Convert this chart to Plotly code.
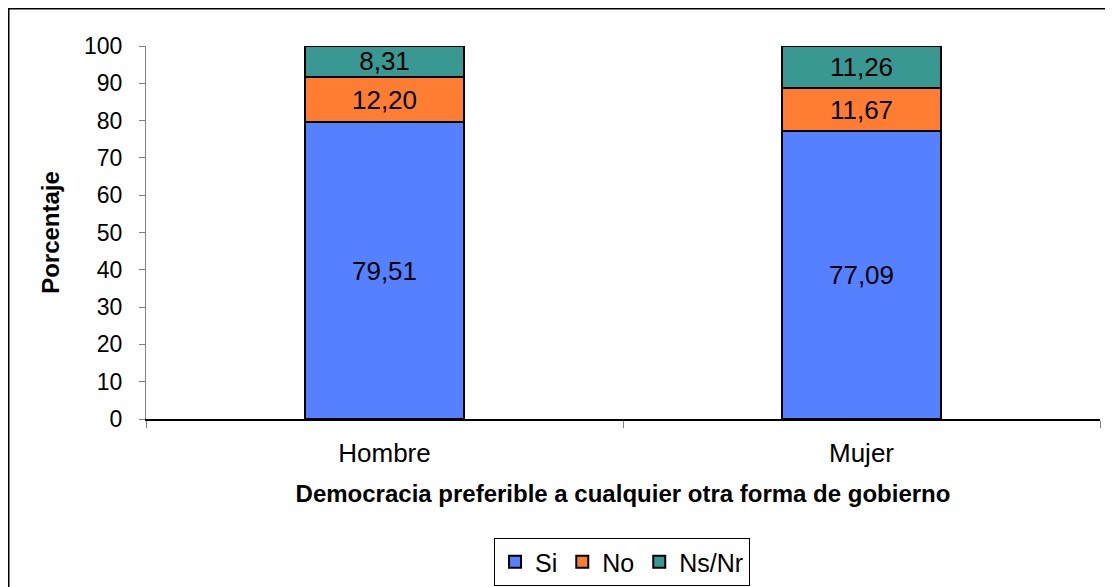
import plotly.graph_objects as go

categories = ["Hombre", "Mujer"]
si = [79.51, 77.09]
no = [12.20, 11.67]
nsnr = [8.31, 11.26]
series_names = ["Si", "No", "Ns/Nr"]
colors = ["#5580ff", "#ff7d33", "#3a9893"]

W, H = 1113, 587
L, R, T, B = 138, 21, 38, 176
pw, ph = W - L - R, H - T - B

fig = go.Figure()
for name, vals, col in zip(series_names, [si, no, nsnr], colors):
    fig.add_trace(go.Bar(
        x=categories, y=vals, name=name,
        marker=dict(color=col, line=dict(color="black", width=2)),
        width=0.335,
        texttemplate="%{y:.2f}", textposition="inside", insidetextanchor="middle",
        constraintext="none",
        textfont=dict(family="Arial, Liberation Sans", size=26, color="black"),
        hoverinfo="skip",
    ))

fig.update_layout(
    barmode="stack",
    width=W, height=H,
    margin=dict(l=L, r=R, t=T, b=B, autoexpand=False),
    separators=",.",
    paper_bgcolor="white", plot_bgcolor="white",
    font=dict(family="Arial, Liberation Sans", size=22, color="black"),
    legend=dict(orientation="h", x=0.499, xanchor="center",
                yref="container", y=1 - 530 / H, yanchor="top",
                bordercolor="black", borderwidth=1, font=dict(size=25),
                itemwidth=30, tracegroupgap=0, traceorder="normal"),
    xaxis=dict(
        showline=True, linecolor="black", linewidth=2,
        ticks="outside", tickson="boundaries", ticklen=7, tickcolor="gray",
        showgrid=False, tickfont=dict(size=26), ticklabelstandoff=10,
        title=dict(text="<b>Democracia preferible a cualquier otra forma de gobierno</b>",
                   font=dict(size=24), standoff=18),
    ),
    yaxis=dict(
        range=[0, 100], dtick=10, showline=True, linecolor="gray", linewidth=1,
        ticks="outside", ticklen=6, tickcolor="gray", showgrid=False,
        tickfont=dict(size=23), ticklabelstandoff=12,
        title=dict(text="<b>Porcentaje</b>", font=dict(size=24), standoff=17),
    ),
    shapes=[dict(type="rect", xref="paper", yref="paper",
                 x0=(0 - L) / pw, x1=(W + 5 - L) / pw,
                 y0=-(H + 5 - (T + ph)) / ph, y1=1 + (T - 0) / ph,
                 line=dict(color="black", width=3), fillcolor="rgba(0,0,0,0)",
                 layer="below")],
)

fig.write_html("out.html")
